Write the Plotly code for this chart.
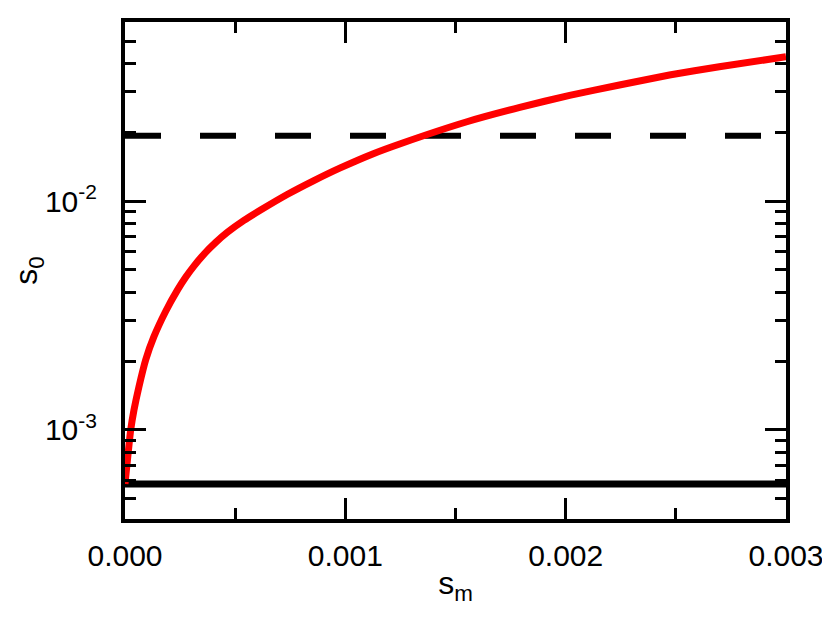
import plotly.graph_objects as go

# red curve (s_m, s_0)
s_m = [0.0, 0.0000258, 0.0000407, 0.0000633, 0.0000937, 0.0001312, 0.0001842,
       0.0002385, 0.000276, 0.0003136, 0.0003588, 0.0004118,
       0.0004647, 0.0005398, 0.0006154, 0.000738, 0.000855, 0.000977,
       0.001127, 0.00125, 0.001552, 0.001792, 0.002018, 0.002244, 0.002471,
       0.002697, 0.003]
s_0 = [0.000581, 0.001, 0.001222, 0.001545, 0.002023, 0.002555, 0.003292,
       0.00409, 0.004655, 0.00521, 0.005867, 0.006597,
       0.0073, 0.008229, 0.009129, 0.0107, 0.01225, 0.01395,
       0.0161, 0.0178, 0.0222, 0.02565, 0.02895, 0.03211, 0.0355,
       0.0386, 0.04266]

# horizontal reference levels
x_span = [0.0, 0.003]
dashed_level = 0.0193
solid_level = 0.000581

x_major = [0.0, 0.001, 0.002, 0.003]
x_labels = ["0.000", "0.001", "0.002", "0.003"]
x_minor = [0.0005, 0.0015, 0.0025]
y_major = [0.001, 0.01]
y_labels = ["10<sup>-3</sup>", "10<sup>-2</sup>"]
y_minor = [m * d for d in (0.0001, 0.001, 0.01) for m in range(2, 10)]

FONT = "Liberation Sans, Arial, sans-serif"

fig = go.Figure()

fig.add_trace(go.Scatter(
    x=x_span, y=[solid_level, solid_level], mode="lines",
    line=dict(color="black", width=7), hoverinfo="skip",
))
fig.add_trace(go.Scatter(
    x=x_span, y=[dashed_level, dashed_level], mode="lines",
    line=dict(color="black", width=6, dash="36px,39px"), hoverinfo="skip",
))
fig.add_trace(go.Scatter(
    x=s_m, y=s_0, mode="lines",
    line=dict(color="#ff0000", width=7, shape="spline", smoothing=0.5),
))

axis_common = dict(
    showline=True, linecolor="black", linewidth=4, mirror="ticks",
    ticks="inside", ticklen=21, tickwidth=3, tickcolor="black",
    showgrid=False, zeroline=False, automargin=False,
    tickfont=dict(family=FONT, size=30, color="black"),
    title_font=dict(family=FONT, size=32, color="black"),
)

fig.update_xaxes(
    **axis_common,
    range=[0, 0.003],
    tickmode="array", tickvals=x_major, ticktext=x_labels,
    minor=dict(tickmode="array", tickvals=x_minor, ticks="inside",
               ticklen=11, tickwidth=3, tickcolor="black", showgrid=False),
    ticklabelstandoff=7,
    title=dict(text="s<sub>m</sub>", standoff=2),
)

fig.update_yaxes(
    **axis_common,
    type="log",
    range=[-3.389, -1.218],
    tickmode="array", tickvals=y_major, ticktext=y_labels,
    minor=dict(tickmode="array", tickvals=y_minor, ticks="inside",
               ticklen=11, tickwidth=3, tickcolor="black", showgrid=False),
    ticklabelstandoff=18,
    title=dict(text="s<sub>0</sub>", standoff=12),
)

# the page puts the plot 8px in from the corner, so margins are offset by that
fig.update_layout(
    width=830, height=626,
    margin=dict(l=117, r=52, t=14, b=115),
    plot_bgcolor="white", paper_bgcolor="white",
    showlegend=False,
)

fig.write_html("out.html")
